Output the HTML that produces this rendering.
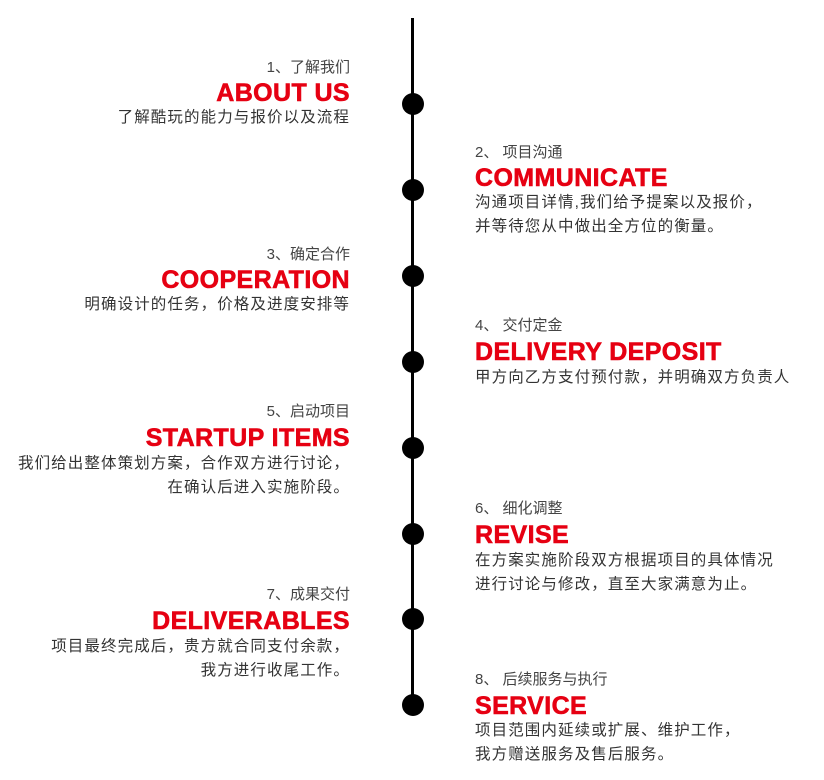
<!DOCTYPE html>
<html><head><meta charset="utf-8"><style>
body{margin:0;width:824px;height:780px;background:#fff;position:relative;overflow:hidden;font-family:"Liberation Sans","Noto Sans CJK SC",sans-serif;}
.l,.r{position:absolute;height:26px;line-height:26px;white-space:nowrap;}
.l{right:474px;text-align:right}
.r{left:475px}
.h{font-size:15px;color:#444}
.t{font-size:25px;font-weight:bold;color:#e60012;-webkit-text-stroke:0.6px #e60012;letter-spacing:0.4px}
.b{font-size:15.5px;color:#333;letter-spacing:1.1px}
.line{position:absolute;left:411px;top:18px;width:3px;height:692px;background:#000}
.dot{position:absolute;left:402px;width:22px;height:22px;border-radius:50%;background:#000}
</style></head><body>
<div class="line"></div>
<div class="dot" style="top:93px"></div>
<div class="dot" style="top:179px"></div>
<div class="dot" style="top:265px"></div>
<div class="dot" style="top:351px"></div>
<div class="dot" style="top:437px"></div>
<div class="dot" style="top:523px"></div>
<div class="dot" style="top:608px"></div>
<div class="dot" style="top:694px"></div>

<div class="l h" style="top:55px">1、了解我们</div>
<div class="l t" style="top:80px">ABOUT US</div>
<div class="l b" style="top:105px">了解酷玩的能力与报价以及流程</div>

<div class="r h" style="top:140px">2、 项目沟通</div>
<div class="r t" style="top:165px">COMMUNICATE</div>
<div class="r b" style="top:190px">沟通项目详情,我们给予提案以及报价，</div>
<div class="r b" style="top:214px">并等待您从中做出全方位的衡量。</div>

<div class="l h" style="top:242px">3、确定合作</div>
<div class="l t" style="top:267px">COOPERATION</div>
<div class="l b" style="top:292px">明确设计的任务，价格及进度安排等</div>

<div class="r h" style="top:313px">4、 交付定金</div>
<div class="r t" style="top:339px">DELIVERY DEPOSIT</div>
<div class="r b" style="top:365px">甲方向乙方支付预付款，并明确双方负责人</div>

<div class="l h" style="top:399px">5、启动项目</div>
<div class="l t" style="top:425px">STARTUP ITEMS</div>
<div class="l b" style="top:451px">我们给出整体策划方案，合作双方进行讨论，</div>
<div class="l b" style="top:475px">在确认后进入实施阶段。</div>

<div class="r h" style="top:496px">6、 细化调整</div>
<div class="r t" style="top:522px">REVISE</div>
<div class="r b" style="top:548px">在方案实施阶段双方根据项目的具体情况</div>
<div class="r b" style="top:572px">进行讨论与修改，直至大家满意为止。</div>

<div class="l h" style="top:582px">7、成果交付</div>
<div class="l t" style="top:608px">DELIVERABLES</div>
<div class="l b" style="top:634px">项目最终完成后，贵方就合同支付余款，</div>
<div class="l b" style="top:658px">我方进行收尾工作。</div>

<div class="r h" style="top:667px">8、 后续服务与执行</div>
<div class="r t" style="top:693px">SERVICE</div>
<div class="r b" style="top:718px">项目范围内延续或扩展、维护工作，</div>
<div class="r b" style="top:742px">我方赠送服务及售后服务。</div>
</body></html>
